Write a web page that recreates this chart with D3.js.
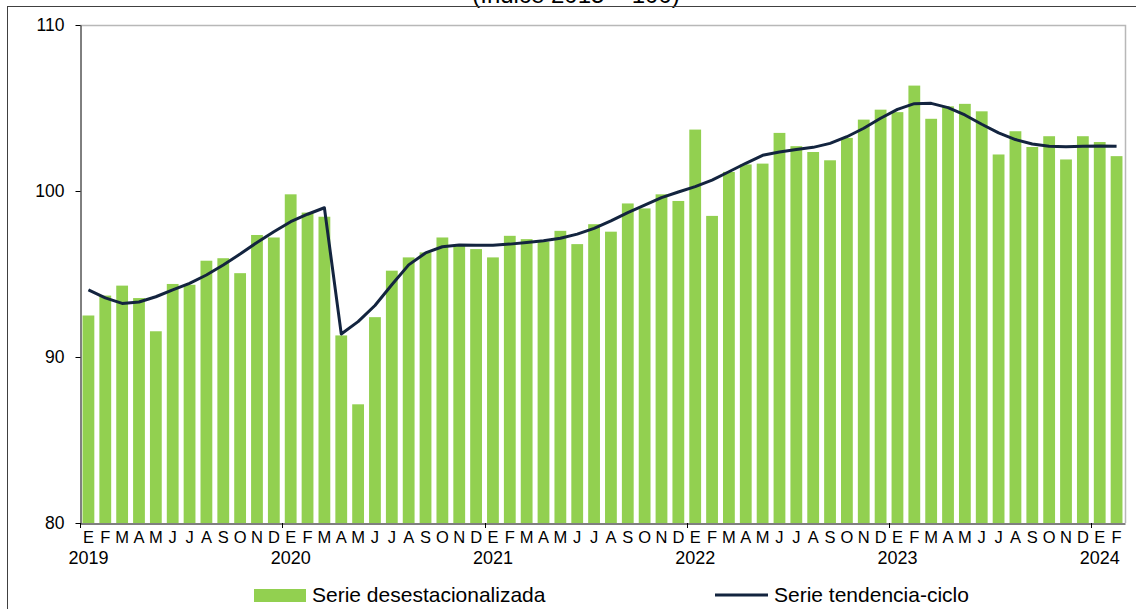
<!DOCTYPE html>
<html>
<head>
<meta charset="utf-8">
<script src="https://cdn.jsdelivr.net/npm/d3@7"></script>
<style>
  body { margin: 0; background: #fff; }
  svg { display: block; font-family: "Liberation Sans", Arial, sans-serif; }
</style>
</head>
<body>
<script>
// categories
var monthLetters = ["E", "F", "M", "A", "M", "J", "J", "A", "S", "O", "N", "D"];
var years = [2019, 2020, 2021, 2022, 2023, 2024];
var monthsIn2024 = 2;

// Serie desestacionalizada
var desest = [
  92.5, 93.7, 94.3, 93.55, 91.55, 94.4, 94.35, 95.8, 95.95, 95.05, 97.35, 97.2,
  99.8, 98.7, 98.45, 91.3, 87.15, 92.4, 95.2, 96.0, 96.3, 97.2, 96.7, 96.5,
  96.0, 97.3, 97.1, 96.95, 97.6, 96.8, 98.0, 97.55, 99.25, 98.95, 99.8, 99.4,
  103.7, 98.5, 101.15, 101.6, 101.65, 103.5, 102.7, 102.35, 101.85, 103.2, 104.3, 104.9,
  104.75, 106.35, 104.35, 105.1, 105.25, 104.8, 102.2, 103.6, 102.65, 103.3, 101.9, 103.3,
  102.95, 102.1
];

// Serie tendencia-ciclo
var tendencia = [
  94.04, 93.56, 93.23, 93.31, 93.63, 94.04, 94.44, 94.94, 95.54, 96.2, 96.9, 97.55,
  98.15, 98.6, 98.99, 91.39, 92.13, 93.1, 94.35, 95.55, 96.27, 96.64, 96.75, 96.73,
  96.73, 96.8, 96.9, 97.0, 97.15, 97.4, 97.75, 98.2, 98.7, 99.15, 99.6, 99.94,
  100.26, 100.66, 101.16, 101.67, 102.15, 102.35, 102.5, 102.63, 102.87, 103.27, 103.78, 104.38,
  104.92, 105.26, 105.28, 105.02, 104.58, 104.02, 103.5, 103.1, 102.83, 102.69, 102.67, 102.69,
  102.71, 102.69
];

var yTicks = [80, 90, 100, 110];

// build category keys year-month
var cats = [];
years.forEach(function (yr) {
  var n = yr === 2024 ? monthsIn2024 : 12;
  for (var m = 0; m < n; m++) {
    cats.push({ key: yr + "-" + m, year: yr, month: m, label: monthLetters[m] });
  }
});
var data = cats.map(function (c, i) {
  return { key: c.key, year: c.year, month: c.month, label: c.label, bar: desest[i], trend: tendencia[i] };
});

var width = 1136, height = 609;
var plotL = 80, plotR = 1125, plotT = 25, plotB = 523;

var svg = d3.select("body").append("svg")
  .attr("width", width)
  .attr("height", height);

// title (cut at top)
svg.append("text")
  .attr("x", 576)
  .attr("y", 3)
  .attr("text-anchor", "middle")
  .style("font-size", "24px")
  .attr("fill", "#000")
  .text("(Índice 2015 = 100)");

// outer frame
svg.append("rect")
  .attr("x", 7.5)
  .attr("y", 6.5)
  .attr("width", 1140)
  .attr("height", 620)
  .attr("fill", "none")
  .attr("stroke", "#404040")
  .attr("stroke-width", 1);

var x = d3.scaleBand()
  .domain(data.map(function (d) { return d.key; }))
  .range([plotL, plotR])
  .paddingInner(0.3)
  .paddingOuter(0.15);

var y = d3.scaleLinear().domain([80, 110]).range([plotB, plotT]);

// bars
svg.append("g")
  .selectAll("rect")
  .data(data)
  .enter()
  .append("rect")
  .attr("x", function (d) { return x(d.key); })
  .attr("width", x.bandwidth())
  .attr("y", function (d) { return y(d.bar); })
  .attr("height", function (d) { return plotB - y(d.bar); })
  .attr("fill", "#92d050");

// trend line
var line = d3.line()
  .x(function (d) { return x(d.key) + x.bandwidth() / 2; })
  .y(function (d) { return y(d.trend); });

svg.append("path")
  .datum(data)
  .attr("d", line)
  .attr("fill", "none")
  .attr("stroke", "#13243f")
  .attr("stroke-width", 3)
  .attr("stroke-linejoin", "round");

// plot area border (top + right)
svg.append("path")
  .attr("d", "M" + plotL + "," + (plotT + 0.5) + "H" + (plotR + 0.5) + "V" + plotB)
  .attr("fill", "none")
  .attr("stroke", "#b8b8b8")
  .attr("stroke-width", 1.5);

// y axis
var yAxis = svg.append("g")
  .attr("transform", "translate(" + (plotL + 0.5) + ",0)")
  .call(d3.axisLeft(y).tickValues(yTicks).tickSize(5).tickSizeOuter(0).tickPadding(11));
yAxis.selectAll("text").style("font-size", "17.5px").attr("fill", "#000");
yAxis.selectAll("line, path").attr("stroke", "#000");

// x axis, month letters
var xAxis = svg.append("g")
  .attr("transform", "translate(0," + (plotB + 0.5) + ")")
  .call(d3.axisBottom(x)
    .tickSize(0)
    .tickSizeOuter(0)
    .tickPadding(7.5)
    .tickFormat(function (k, i) { return data[i].label; }));
xAxis.selectAll("text").style("font-size", "16.5px").attr("fill", "#000");
xAxis.select(".domain").attr("stroke", "#000");

// year separators
var gap = x.step() * x.paddingInner() / 2;
var jan = data.filter(function (d) { return d.month === 0; });
svg.append("g")
  .selectAll("line")
  .data(jan)
  .enter()
  .append("line")
  .attr("x1", function (d) { return Math.round(x(d.key) - gap) + 0.5; })
  .attr("x2", function (d) { return Math.round(x(d.key) - gap) + 0.5; })
  .attr("y1", plotB)
  .attr("y2", plotB + 5)
  .attr("stroke", "#000");

// year labels
svg.append("g")
  .selectAll("text")
  .data(jan)
  .enter()
  .append("text")
  .attr("x", function (d) { return x(d.key) + x.bandwidth() / 2; })
  .attr("y", 564)
  .attr("text-anchor", "middle")
  .style("font-size", "18px")
  .text(function (d) { return d.year; });

// legend
var legend = svg.append("g");
legend.append("rect")
  .attr("x", 254)
  .attr("y", 589)
  .attr("width", 52)
  .attr("height", 13)
  .attr("fill", "#92d050");
legend.append("text")
  .attr("x", 312)
  .attr("y", 602)
  .style("font-size", "21px")
  .text("Serie desestacionalizada");
legend.append("line")
  .attr("x1", 715)
  .attr("x2", 768)
  .attr("y1", 595)
  .attr("y2", 595)
  .attr("stroke", "#13243f")
  .attr("stroke-width", 3);
legend.append("text")
  .attr("x", 774)
  .attr("y", 602)
  .style("font-size", "21px")
  .text("Serie tendencia-ciclo");
</script>
</body>
</html>
